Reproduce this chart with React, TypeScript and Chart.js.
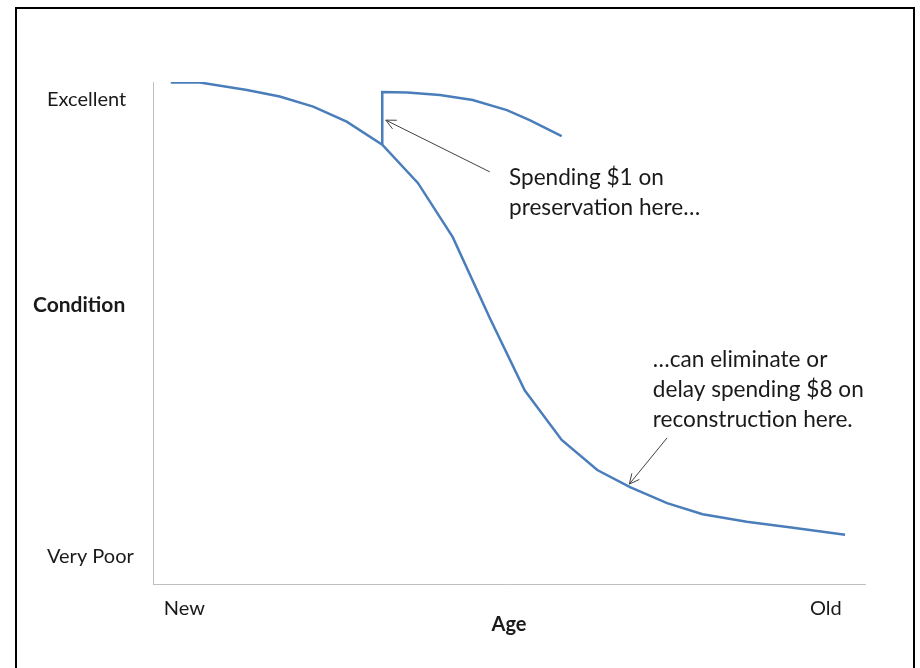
import { useEffect, useRef } from "react";
import { Chart, registerables } from "chart.js";

Chart.register(...registerables);

// ---- data (Age 0..100 left→right, Condition 0..100 bottom→top) ----
const AGE_MAIN = [2.5, 6.6, 13.2, 17.8, 22.5, 27.2, 32.2, 37.2, 42.1, 47.3, 52.2, 57.4, 62.4, 67.0, 72.2, 77.2, 83.4, 89.9, 97.2];
const CONDITION_MAIN = [99.9, 99.9, 98.4, 97.1, 95.1, 92.1, 87.5, 79.9, 69.1, 53.0, 38.6, 28.7, 22.7, 19.3, 16.1, 13.9, 12.4, 11.2, 9.8];
const AGE_PRESERVED = [32.2, 32.2, 35.7, 40.3, 44.9, 49.7, 52.9, 57.4];
const CONDITION_PRESERVED = [87.5, 98.0, 97.9, 97.4, 96.4, 94.4, 92.4, 89.2];

const Y_TICK_VALUES = [96.5, 5.5];
const Y_TICK_LABELS = ["Excellent", "Very Poor"];
const X_TICK_VALUES = [4.4, 94.5];
const X_TICK_LABELS = ["New", "Old"];

const Y_TITLE = "Condition";
const Y_TITLE_VALUE = 55.6;
const X_TITLE = "Age";

const NOTE_1 = ["Spending $1 on", "preservation here…"];
const NOTE_1_AT = { x: 50.0, y: 80.9 };
const ARROW_1 = { from: { x: 47.3, y: 82.1 }, to: { x: 32.7, y: 92.4 } };

const NOTE_2 = ["…can eliminate or", "delay spending $8 on", "reconstruction here."];
const NOTE_2_AT = { x: 70.2, y: 44.6 };
const ARROW_2 = { from: { x: 72.2, y: 29.1 }, to: { x: 66.9, y: 19.9 } };

const FONT = "Lato, 'Open Sans', sans-serif";
const LINE_COLOR = "#4A7EBB";
const TEXT_COLOR = "#1a1a1a";

function drawArrow(ctx: CanvasRenderingContext2D, x1: number, y1: number, x2: number, y2: number) {
  const ang = Math.atan2(y2 - y1, x2 - x1);
  const len = 11;
  const spread = (26 * Math.PI) / 180;
  ctx.beginPath();
  ctx.moveTo(x1, y1);
  ctx.lineTo(x2, y2);
  ctx.moveTo(x2 - len * Math.cos(ang - spread), y2 - len * Math.sin(ang - spread));
  ctx.lineTo(x2, y2);
  ctx.lineTo(x2 - len * Math.cos(ang + spread), y2 - len * Math.sin(ang + spread));
  ctx.stroke();
}

const overlay = {
  id: "overlay",
  afterDraw(chart: any) {
    const { ctx } = chart;
    const x = chart.scales.x;
    const y = chart.scales.y;
    const W = chart.width;
    const H = chart.height;
    ctx.save();
    // picture frame (no bottom edge)
    ctx.strokeStyle = "#000";
    ctx.lineWidth = 2;
    ctx.beginPath();
    ctx.moveTo(16, H);
    ctx.lineTo(16, 8);
    ctx.lineTo(W - 6, 8);
    ctx.lineTo(W - 6, H);
    ctx.stroke();

    // Y title
    ctx.fillStyle = TEXT_COLOR;
    ctx.font = `bold 21px ${FONT}`;
    ctx.textAlign = "left";
    ctx.textBaseline = "middle";
    ctx.fillText(Y_TITLE, 33, y.getPixelForValue(Y_TITLE_VALUE));

    // notes
    ctx.font = `22.6px ${FONT}`;
    const lh = 30;
    NOTE_1.forEach((t, i) => ctx.fillText(t, x.getPixelForValue(NOTE_1_AT.x), y.getPixelForValue(NOTE_1_AT.y) + i * lh));
    NOTE_2.forEach((t, i) => ctx.fillText(t, x.getPixelForValue(NOTE_2_AT.x), y.getPixelForValue(NOTE_2_AT.y) + i * lh));

    // arrows
    ctx.strokeStyle = "#404040";
    ctx.lineWidth = 1;
    [ARROW_1, ARROW_2].forEach((a) =>
      drawArrow(
        ctx,
        x.getPixelForValue(a.from.x),
        y.getPixelForValue(a.from.y),
        x.getPixelForValue(a.to.x),
        y.getPixelForValue(a.to.y)
      )
    );
    ctx.restore();
  },
};

export default function App() {
  const ref = useRef<HTMLCanvasElement | null>(null);
  useEffect(() => {
    if (!ref.current) return;
    const chart = new Chart(ref.current, {
      type: "scatter",
      data: {
        datasets: [
          {
            data: AGE_MAIN.map((a, i) => ({ x: a, y: CONDITION_MAIN[i] })),
            showLine: true,
            borderColor: LINE_COLOR,
            borderWidth: 2.5,
            pointRadius: 0,
            tension: 0,
          },
          {
            data: AGE_PRESERVED.map((a, i) => ({ x: a, y: CONDITION_PRESERVED[i] })),
            showLine: true,
            borderColor: LINE_COLOR,
            borderWidth: 2.5,
            pointRadius: 0,
            tension: 0,
          },
        ],
      },
      options: {
        responsive: false,
        animation: false,
        devicePixelRatio: 1,
        layout: { padding: { left: 47, top: 82, right: 55, bottom: 0 } },
        plugins: { legend: { display: false }, tooltip: { enabled: false } },
        scales: {
          x: {
            type: "linear",
            min: 0,
            max: 100,
            grid: { display: false, drawTicks: false },
            border: { display: true, color: "#bfbfbf", width: 1 },
            afterBuildTicks: (s: any) => {
              s.ticks = X_TICK_VALUES.map((v) => ({ value: v }));
            },
            afterFit: (s: any) => {
              s.height = 84;
            },
            ticks: {
              autoSkip: false,
              maxRotation: 0,
              padding: 13,
              color: TEXT_COLOR,
              font: { family: FONT, size: 20 },
              callback: (_v: any, i: number) => X_TICK_LABELS[i],
            },
            title: {
              display: true,
              text: X_TITLE,
              color: TEXT_COLOR,
              font: { family: FONT, size: 20, weight: "bold" },
              padding: { top: 0, bottom: 31 },
            },
          },
          y: {
            type: "linear",
            min: 0,
            max: 100,
            grid: { display: false, drawTicks: false },
            border: { display: true, color: "#bfbfbf", width: 1 },
            afterBuildTicks: (s: any) => {
              s.ticks = Y_TICK_VALUES.map((v) => ({ value: v }));
            },
            afterFit: (s: any) => {
              s.width = 106;
            },
            ticks: {
              crossAlign: "far",
              color: TEXT_COLOR,
              font: { family: FONT, size: 20 },
              callback: (_v: any, i: number) => Y_TICK_LABELS[i],
            },
          },
        },
      },
      plugins: [overlay],
    });
    return () => chart.destroy();
  }, []);
  return (
    <div style={{ position: "absolute", left: 0, top: 0, width: 920, height: 668, background: "#fff" }}>
      <canvas ref={ref} width={920} height={668} style={{ display: "block", width: 920, height: 668 }} />
    </div>
  );
}
